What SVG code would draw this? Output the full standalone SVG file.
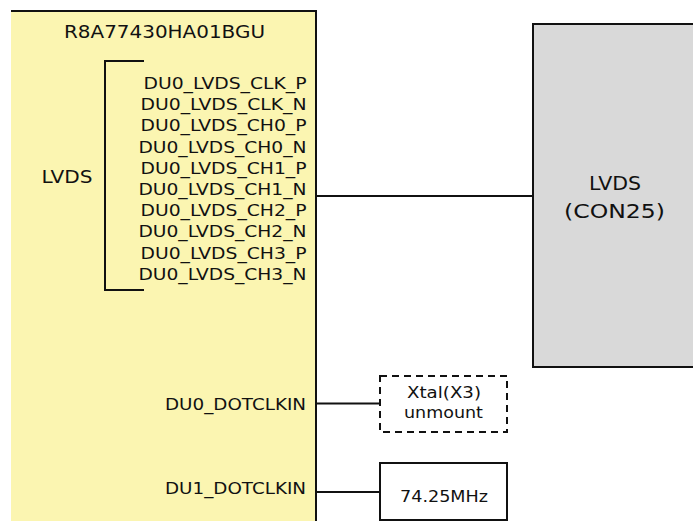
<svg xmlns="http://www.w3.org/2000/svg" width="693" height="521" viewBox="0 0 693 521">
<style>
text{font-family:"DejaVu Sans","Verdana",sans-serif;fill:#111}
.sig{font-size:16px;text-anchor:end}
.ln{stroke:#111;stroke-width:2;fill:none}
.box{stroke:#111;stroke-width:2}
</style>
<rect width="693" height="521" fill="#fff"/>
<g id="chip">
<rect x="11" y="11" width="305" height="512" fill="#FBF5B1"/>
<path class="ln" d="M11,11 H316 V521"/>
<text x="64" y="38" font-size="17.5" textLength="201" lengthAdjust="spacingAndGlyphs">R8A77430HA01BGU</text>
<text x="41.5" y="183" font-size="17.5" textLength="51" lengthAdjust="spacingAndGlyphs">LVDS</text>
<path class="ln" d="M144,61 H105 V290 H144"/>
<g class="sig">
<text x="306.5" y="89" textLength="163" lengthAdjust="spacingAndGlyphs">DU0_LVDS_CLK_P</text>
<text x="306.5" y="110.2" textLength="166" lengthAdjust="spacingAndGlyphs">DU0_LVDS_CLK_N</text>
<text x="306.5" y="131.4" textLength="166" lengthAdjust="spacingAndGlyphs">DU0_LVDS_CH0_P</text>
<text x="306.5" y="152.6" textLength="168" lengthAdjust="spacingAndGlyphs">DU0_LVDS_CH0_N</text>
<text x="306.5" y="173.8" textLength="166" lengthAdjust="spacingAndGlyphs">DU0_LVDS_CH1_P</text>
<text x="306.5" y="195" textLength="168" lengthAdjust="spacingAndGlyphs">DU0_LVDS_CH1_N</text>
<text x="306.5" y="216.2" textLength="166" lengthAdjust="spacingAndGlyphs">DU0_LVDS_CH2_P</text>
<text x="306.5" y="237.4" textLength="168" lengthAdjust="spacingAndGlyphs">DU0_LVDS_CH2_N</text>
<text x="306.5" y="258.6" textLength="166" lengthAdjust="spacingAndGlyphs">DU0_LVDS_CH3_P</text>
<text x="306.5" y="279.8" textLength="168" lengthAdjust="spacingAndGlyphs">DU0_LVDS_CH3_N</text>
<text x="306" y="410" textLength="141" lengthAdjust="spacingAndGlyphs">DU0_DOTCLKIN</text>
<text x="306" y="494" textLength="141" lengthAdjust="spacingAndGlyphs">DU1_DOTCLKIN</text>
</g>
</g>
<g id="lvds-con25">
<rect x="533" y="24" width="180" height="343" fill="#D9D9D9" class="box"/>
<text x="589" y="190" font-size="19" textLength="52" lengthAdjust="spacingAndGlyphs">LVDS</text>
<text x="564" y="218" font-size="19" textLength="101" lengthAdjust="spacingAndGlyphs">(CON25)</text>
</g>
<g id="xtal-x3">
<rect x="380" y="376" width="127" height="56" fill="none" stroke="#111" stroke-width="2" stroke-dasharray="7,5"/>
<text x="407" y="398" font-size="15.5" textLength="74" lengthAdjust="spacingAndGlyphs">Xtal(X3)</text>
<text x="404" y="418" font-size="15.5" textLength="79" lengthAdjust="spacingAndGlyphs">unmount</text>
</g>
<g id="osc-74-25">
<rect x="380" y="463" width="127" height="57" fill="#fff" class="box"/>
<text x="400" y="502" font-size="15.5" textLength="88" lengthAdjust="spacingAndGlyphs">74.25MHz</text>
</g>
<g id="connectors" class="ln">
<line x1="316" y1="196" x2="533" y2="196"/>
<line x1="316" y1="403.5" x2="380" y2="403.5"/>
<line x1="316" y1="492" x2="380" y2="492"/>
</g>
</svg>
